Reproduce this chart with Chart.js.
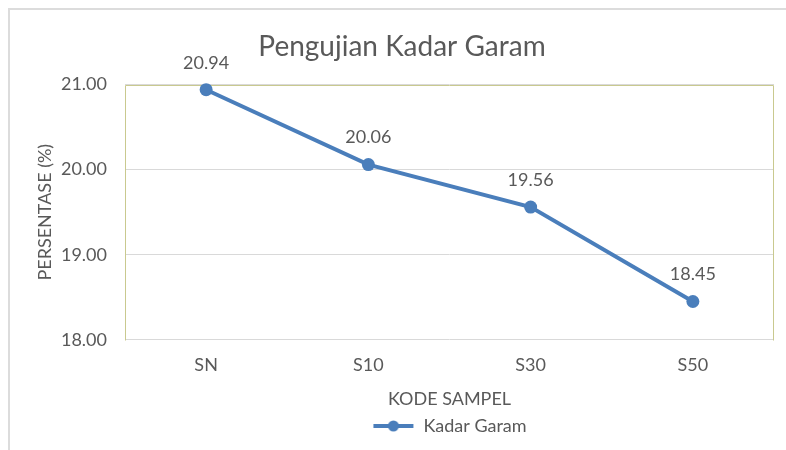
<!DOCTYPE html>
<html>
<head>
<meta charset="utf-8">
<script src="https://cdn.jsdelivr.net/npm/chart.js@4/dist/chart.umd.min.js"></script>
<style>
  html, body { margin: 0; padding: 0; background: #ffffff; }
  #wrap { position: relative; width: 786px; height: 450px; }
  #frame { position: absolute; left: 8px; top: 8px; width: 790px; height: 450px;
           border-left: 2px solid #dcdcdc; border-top: 2px solid #dcdcdc; box-sizing: border-box; }
  canvas { position: absolute; left: 0; top: 0; }
</style>
</head>
<body>
<div id="wrap">
  <div id="frame"></div>
  <canvas id="c" width="786" height="450"></canvas>
</div>
<script>
const categories = ["SN", "S10", "S30", "S50"];
const kadarGaram = [20.94, 20.06, 19.56, 18.45];
const yTicks = [18, 19, 20, 21];
const seriesName = "Kadar Garam";
const chartTitle = "Pengujian Kadar Garam";
const xTitle = "KODE SAMPEL";
const yTitle = "PERSENTASE (%)";

const FONT = "Lato, 'Open Sans', sans-serif";
const TXT = "#595959";
const LINE = "#4a7ebb";

// legend marker: line with dot
const marker = document.createElement('canvas');
marker.width = 42; marker.height = 14;
(function () {
  const m = marker.getContext('2d');
  m.strokeStyle = LINE; m.lineWidth = 4;
  m.beginPath(); m.moveTo(1, 7); m.lineTo(41, 7); m.stroke();
  m.fillStyle = LINE;
  m.beginPath(); m.arc(21, 7, 5.5, 0, Math.PI * 2); m.fill();
})();

const dataLabels = {
  id: 'dataLabels',
  afterDatasetsDraw(chart) {
    const ctx = chart.ctx;
    const meta = chart.getDatasetMeta(0);
    ctx.save();
    ctx.font = "18px " + FONT;
    ctx.fillStyle = TXT;
    ctx.textAlign = 'center';
    ctx.textBaseline = 'middle';
    meta.data.forEach((pt, i) => {
      ctx.fillText(kadarGaram[i].toFixed(2), pt.x, pt.y - 27);
    });
    ctx.restore();
  }
};

const plotBorder = {
  id: 'plotBorder',
  afterLayout(chart) {
    // centre the legend under the plot area
    if (chart.legend) {
      chart.legend.left = chart.chartArea.left;
      chart.legend.right = chart.chartArea.right;
    }
  },
  beforeDatasetsDraw(chart) {
    const a = chart.chartArea, ctx = chart.ctx;
    const l = Math.round(a.left) + 0.5, r = Math.round(a.right) - 0.5;
    const t = Math.round(a.top) + 0.5, b = Math.round(a.bottom) + 0.5;
    ctx.save();
    ctx.strokeStyle = "#c9c98f";
    ctx.lineWidth = 1;
    ctx.beginPath();
    ctx.moveTo(l, b); ctx.lineTo(l, t); ctx.lineTo(r, t); ctx.lineTo(r, b);
    ctx.stroke();
    ctx.restore();
  }
};

new Chart(document.getElementById('c'), {
  type: 'line',
  data: {
    labels: categories,
    datasets: [{
      label: seriesName,
      data: kadarGaram,
      borderColor: LINE,
      backgroundColor: LINE,
      borderWidth: 4,
      pointRadius: 6.5,
      pointHoverRadius: 6.5,
      pointBackgroundColor: LINE,
      pointBorderWidth: 0,
      tension: 0,
      clip: false
    }]
  },
  options: {
    responsive: false,
    animation: false,
    devicePixelRatio: 1,
    layout: { padding: { left: 30, right: 12, top: 0, bottom: 5 } },
    plugins: {
      title: {
        display: true, text: chartTitle, color: TXT,
        font: { family: FONT, size: 28, weight: 'normal' },
        padding: { top: 30, bottom: 21 }
      },
      legend: {
        display: true, position: 'bottom',
        labels: {
          color: TXT, font: { family: FONT, size: 18 },
          usePointStyle: true, pointStyleWidth: 42, padding: 6,
          generateLabels(chart) {
            return [{ text: seriesName, pointStyle: marker, fontColor: TXT,
                      strokeStyle: LINE, fillStyle: LINE, lineWidth: 0, datasetIndex: 0, hidden: false }];
          }
        }
      },
      tooltip: { enabled: false }
    },
    scales: {
      x: {
        offset: true,
        grid: { display: false, drawTicks: false },
        border: { display: false },
        ticks: { color: TXT, font: { family: FONT, size: 18 }, padding: 15 },
        title: { display: true, text: xTitle, color: TXT, font: { family: FONT, size: 18 }, padding: { top: 0, bottom: 1 } },
        afterFit(scale) { scale.height -= 3; }
      },
      y: {
        min: 18, max: 21,
        afterBuildTicks(scale) { scale.ticks = yTicks.map(v => ({ value: v })); },
        grid: { color: "#d9d9d9", drawTicks: false, lineWidth: 1 },
        border: { display: false },
        ticks: { color: TXT, font: { family: FONT, size: 18 }, padding: 18,
                 callback: v => Number(v).toFixed(2) },
        title: { display: true, text: yTitle, color: TXT, font: { family: FONT, size: 18 }, padding: { top: 4, bottom: 4 } },
        afterFit(scale) { scale.width = 95; }
      }
    }
  },
  plugins: [dataLabels, plotBorder]
});
</script>
</body>
</html>
